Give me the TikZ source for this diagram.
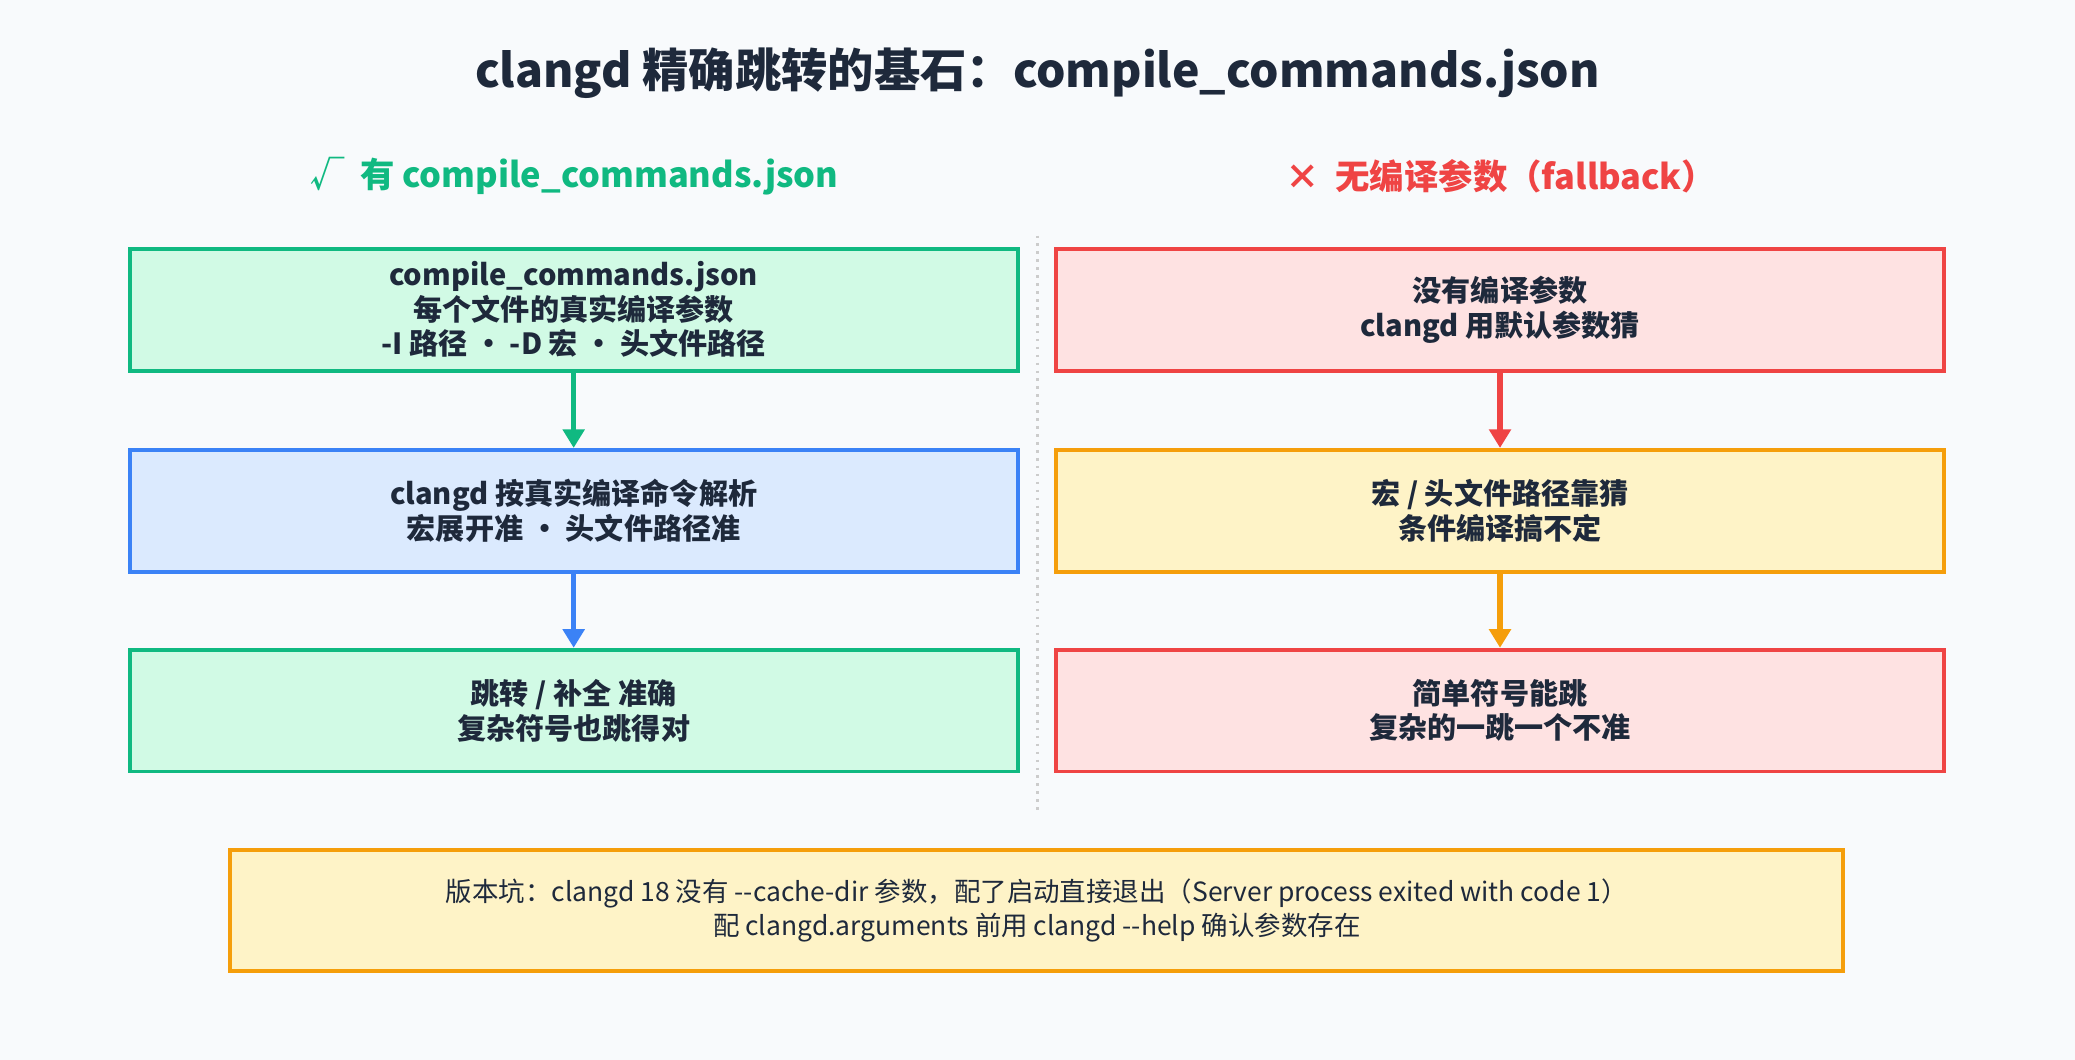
\documentclass[tikz,border=0pt]{standalone}
\usepackage{fontspec}
\setmainfont{Noto Sans CJK SC}
\usetikzlibrary{arrows.meta}
\definecolor{bg}{HTML}{F8FAFC}
\definecolor{ink}{HTML}{1E293B}
\definecolor{gF}{HTML}{D1FAE5}\definecolor{gB}{HTML}{10B981}
\definecolor{bF}{HTML}{DBEAFE}\definecolor{bB}{HTML}{3B82F6}
\definecolor{rF}{HTML}{FEE2E2}\definecolor{rB}{HTML}{EF4444}
\definecolor{yF}{HTML}{FEF3C7}\definecolor{yB}{HTML}{F59E0B}
\tikzset{
 box/.style={draw=#1B,fill=#1F,line width=1.5pt,minimum width=335.5pt,minimum height=46pt,align=center,font=\fontsize{11}{13}\selectfont\bfseries,text=ink,inner sep=0pt},
 arr/.style={draw=#1,line width=2pt,-{Triangle[length=7pt,width=8pt]}},
}
\begin{document}
\begin{tikzpicture}[x=0.5pt,y=-0.5pt]
\fill[bg] (0,0) rectangle (1568,801);
\useasboundingbox (0,0) rectangle (1568,801);
\node[font=\fontsize{17.5}{20}\selectfont\bfseries,text=ink] (title) at (784,55) {clangd 精确跳转的基石：compile\_commands.json};
\node[font=\fontsize{13}{15}\selectfont\bfseries,text=gB] (lh) at (434,133) {√\ \ 有 compile\_commands.json};
\node[font=\fontsize{13}{15}\selectfont\bfseries,text=rB] (rh) at (1134,133) {×\ \ 无编译参数（fallback）};
\coordinate (d1) at (784,178); \coordinate (d2) at (784,612);
\draw[gray!40,line width=1pt,dotted] (d1) -- (d2);
\node[box=g] (l1) at (433.5,234) {compile\_commands.json\\每个文件的真实编译参数\\-I 路径 · -D 宏 · 头文件路径};
\node[box=b] (l2) at (433.5,386) {clangd 按真实编译命令解析\\宏展开准 · 头文件路径准};
\node[box=g] (l3) at (433.5,537) {跳转 / 补全 准确\\复杂符号也跳得对};
\node[box=r] (r1) at (1133.5,234) {没有编译参数\\clangd 用默认参数猜};
\node[box=y] (r2) at (1133.5,386) {宏 / 头文件路径靠猜\\条件编译搞不定};
\node[box=r] (r3) at (1133.5,537) {简单符号能跳\\复杂的一跳一个不准};
\draw[arr=gB] (l1.south) -- (l2.north);
\draw[arr=bB] (l2.south) -- (l3.north);
\draw[arr=rB] (r1.south) -- (r2.north);
\draw[arr=yB] (r2.south) -- (r3.north);
\node[box=y,minimum width=609.5pt,font=\fontsize{10}{12.5}\selectfont] (note) at (783.5,688) {版本坑：clangd 18 没有 -{}-cache-dir 参数，配了启动直接退出（Server process exited with code 1）\\配 clangd.arguments 前用 clangd -{}-help 确认参数存在};
\end{tikzpicture}
\end{document}
